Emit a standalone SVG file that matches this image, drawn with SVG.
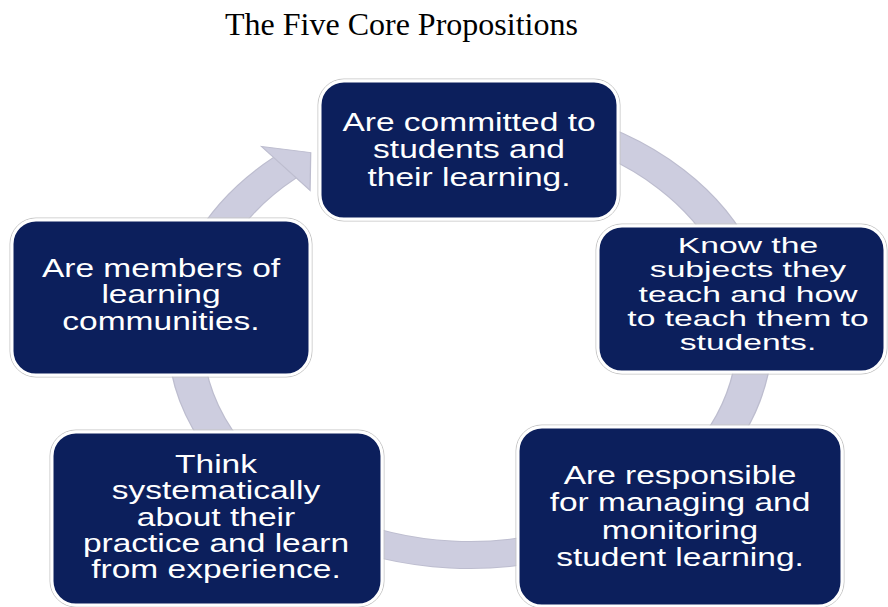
<svg xmlns="http://www.w3.org/2000/svg" width="888" height="607" viewBox="0 0 888 607">
<style>
.title{font-family:"Liberation Serif","Times New Roman",serif;font-size:32px;fill:#000}
.node{fill:#0C1F5C;stroke:#ffffff;stroke-width:3}
.halo{fill:none;stroke:#c4c4c4;stroke-width:1}
.lbl{font-family:"Liberation Sans",Arial,sans-serif;font-size:25px;fill:#ffffff;text-anchor:middle}
.sm{font-size:22px}
.ring{fill:none;stroke-linecap:butt}
</style>
<rect width="888" height="607" fill="#ffffff"/>
<text class="title" x="225" y="35">The Five Core Propositions</text>
<g id="connectors">
  <g transform="translate(470,335) scale(1.295,1)">
    <path class="ring" d="M -38.2 -216.66 A 220 220 0 1 1 -142.9 -167.3" stroke="#bdbdcf" stroke-width="28"/>
    <path class="ring" d="M -38.2 -216.66 A 220 220 0 1 1 -142.9 -167.3" stroke="#cdcddf" stroke-width="26"/>
    <polygon points="-161.0,-188.5 -123.0,-182.4 -123.5,-144.6" fill="#cdcddf" stroke="#bdbdcf" stroke-width="1"/>
  </g>
</g>
<g id="node1">
  <rect class="halo" x="318" y="79" width="302" height="142" rx="26"/>
  <rect class="node" x="320" y="81" width="298" height="138" rx="24"/>
  <g transform="translate(469,0) scale(1.34,1)">
    <text class="lbl" x="0" y="131">Are committed to</text>
    <text class="lbl" x="0" y="158.5">students and</text>
    <text class="lbl" x="0" y="186">their learning.</text>
  </g>
</g>
<g id="node2">
  <rect class="halo" x="596" y="224" width="291" height="150" rx="26"/>
  <rect class="node" x="598" y="226" width="287" height="146" rx="24"/>
  <g transform="translate(748,0) scale(1.53,1)">
    <text class="lbl sm" x="0" y="253.5">Know the</text>
    <text class="lbl sm" x="0" y="277.5">subjects they</text>
    <text class="lbl sm" x="0" y="301.7">teach and how</text>
    <text class="lbl sm" x="0" y="326">to teach them to</text>
    <text class="lbl sm" x="0" y="350">students.</text>
  </g>
</g>
<g id="node3">
  <rect class="halo" x="516" y="425" width="328" height="183" rx="26"/>
  <rect class="node" x="518" y="427" width="324" height="179" rx="24"/>
  <g transform="translate(680,0) scale(1.34,1)">
    <text class="lbl" x="0" y="484">Are responsible</text>
    <text class="lbl" x="0" y="511.5">for managing and</text>
    <text class="lbl" x="0" y="539.5">monitoring</text>
    <text class="lbl" x="0" y="566.5">student learning.</text>
  </g>
</g>
<g id="node4">
  <rect class="halo" x="50" y="430" width="334" height="177" rx="26"/>
  <rect class="node" x="52" y="432" width="330" height="173" rx="24"/>
  <g transform="translate(216,0) scale(1.34,1)">
    <text class="lbl" x="0" y="473.5">Think</text>
    <text class="lbl" x="0" y="499.5">systematically</text>
    <text class="lbl" x="0" y="526">about their</text>
    <text class="lbl" x="0" y="552">practice and learn</text>
    <text class="lbl" x="0" y="578.3">from experience.</text>
  </g>
</g>
<g id="node5">
  <rect class="halo" x="10" y="218" width="302" height="159" rx="26"/>
  <rect class="node" x="12" y="220" width="298" height="155" rx="24"/>
  <g transform="translate(161,0) scale(1.34,1)">
    <text class="lbl" x="0" y="277">Are members of</text>
    <text class="lbl" x="0" y="303">learning</text>
    <text class="lbl" x="0" y="330.5">communities.</text>
  </g>
</g>
</svg>
